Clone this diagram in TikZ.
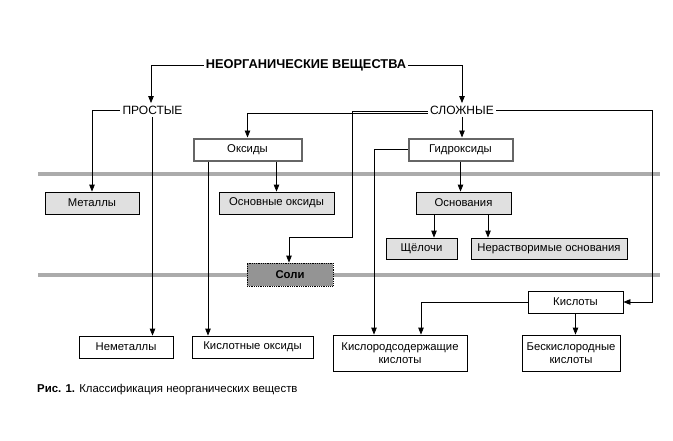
\documentclass[tikz,border=0pt]{standalone}
\usepackage{fontspec}
\setmainfont{Liberation Sans}
\usetikzlibrary{arrows.meta}
\begin{document}
\begin{tikzpicture}[x=1pt,y=-1pt,
  conn/.style={line width=0.8pt,draw=black},
  arr/.style={conn,-{Triangle[width=5.5pt,length=7pt]}},
  band/.style={line width=4pt,draw=black!33},
  boxw/.style={draw=black,line width=0.8pt,fill=white,inner sep=0pt,font=\fontsize{11.3}{12.5}\selectfont,align=center},
  boxg/.style={boxw,fill=black!12},
  boxthick/.style={boxw,draw=black!60,line width=2pt},
  boxsalt/.style={boxw,fill=black!42,densely dotted,font=\fontsize{11.3}{12.5}\selectfont\bfseries},
  lbl/.style={inner sep=2.5pt,font=\fontsize{12}{14}\selectfont}]
\useasboundingbox (0,0) rectangle (673,440);
\fill[white] (0,0) rectangle (673,440);
% bands
\draw[band] (38,174) -- (660,174);
\draw[band] (38,275) -- (660,275);
% labels
\node[lbl,inner sep=2pt,font=\fontsize{12.8}{14}\selectfont\bfseries] (t) at (306,65) {НЕОРГАНИЧЕСКИЕ ВЕЩЕСТВА};
\node[lbl] (prost) at (152.5,110) {ПРОСТЫЕ};
\node[lbl] (slozh) at (462,110) {СЛОЖНЫЕ};
% boxes
\node[boxthick,minimum width=108pt,minimum height=22pt] (oks) at (247.5,149.5) {Оксиды};
\node[boxthick,minimum width=104pt,minimum height=22pt] (gidr) at (460.5,149.5) {Гидроксиды};
\node[boxg,minimum width=94pt,minimum height=22pt] (met) at (92,203) {Металлы};
\node[boxg,minimum width=115pt,minimum height=22pt] (osnoks) at (276.5,203) {Основные оксиды};
\node[boxg,minimum width=95pt,minimum height=22pt] (osnov) at (463.5,203) {Основания};
\node[boxg,minimum width=71pt,minimum height=21pt] (shch) at (421.5,248.5) {Щёлочи};
\node[boxg,minimum width=156pt,minimum height=21pt] (nerast) at (549,248.5) {Нерастворимые основания};
\node[boxsalt,minimum width=86pt,minimum height=23pt] (soli) at (290,274.5) {Соли};
\node[boxw,minimum width=95pt,minimum height=22pt] (kisl) at (575.5,302) {Кислоты};
\node[boxw,minimum width=94pt,minimum height=22pt] (nemet) at (126,347) {Неметаллы};
\node[boxw,minimum width=121pt,minimum height=22pt] (kisloks) at (252.5,347) {Кислотные оксиды};
\node[boxw,minimum width=134pt,minimum height=36pt] (kislor) at (400,353) {Кислородсодержащие\\кислоты};
\node[boxw,minimum width=98pt,minimum height=36pt] (beskisl) at (571,353) {Бескислородные\\кислоты};
% caption
\node[anchor=west,inner sep=0pt,font=\fontsize{11.4}{13}\selectfont] (cap) at (37,390) {\textbf{Рис. 1.} Классификация неорганических веществ};
% coordinates
\coordinate (s1) at (352,111.5);
\coordinate (s2) at (352,237);
\coordinate (s3) at (289,237);
\coordinate (kr) at (652,110);
% connectors
\draw[arr] (t.west) -| ([xshift=-1.5pt]prost.north);
\draw[arr] (t.east) -| (slozh.north);
\draw[arr] (prost.west) -| (met.north);
\draw[arr] (prost.south) -- (prost.south |- nemet.north);
\draw[arr] ([yshift=-3pt]slozh.west) -| (oks.north);
\draw[conn] (slozh.west |- s1) -- (s1) -- (s2) -- (s3);
\draw[arr] (s3) -- (s3 |- soli.north);
\draw[conn] (slozh.east) -- (kr);
\draw[arr] (kr) |- (kisl.east);
\draw[arr] (slozh.south) -- (slozh.south |- gidr.north);
\draw[arr] ([xshift=-39.5pt]oks.south) -- ([xshift=-39.5pt]oks.south |- kisloks.north);
\draw[arr] (oks.south -| osnoks.north) -- (osnoks.north);
\draw[arr] (gidr.west) -| ([xshift=-26pt]kislor.north);
\draw[arr] (gidr.south) -- (gidr.south |- osnov.north);
\draw[arr] ([xshift=-29.5pt]osnov.south) -- ([xshift=-29.5pt]osnov.south |- shch.north);
\draw[arr] ([xshift=24.5pt]osnov.south) -- ([xshift=24.5pt]osnov.south |- nerast.north);
\draw[arr] (kisl.west) -| ([xshift=21pt]kislor.north);
\draw[arr] (kisl.south) -- (kisl.south |- beskisl.north);
\end{tikzpicture}
\end{document}
